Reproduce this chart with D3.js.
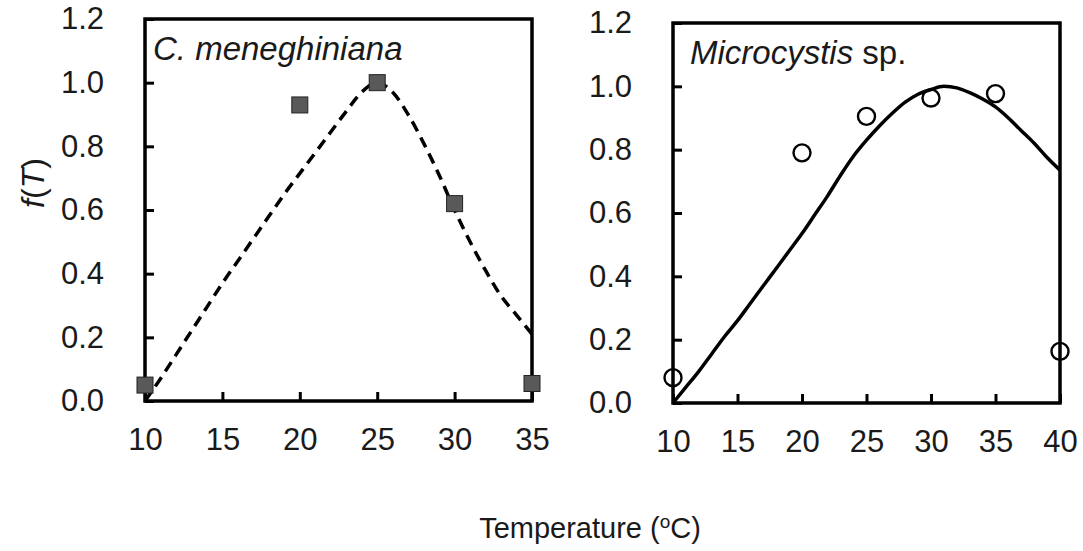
<!DOCTYPE html>
<html>
<head>
    <meta charset="utf-8">
    <title>f(T) vs temperature</title>
    <script src="https://d3js.org/d3.v7.min.js"></script>
    <style>
        body { margin: 0; background: #fff; }
        text { font-family: "Liberation Sans", Arial, sans-serif; fill: #1a1a1a; }
    </style>
</head>
<body>
    <svg id="chart" width="1083" height="551"></svg>
    <script>
        // C. meneghiniana observations (squares) and fitted curve (dashed)
        const cmTemp = [10, 20, 25, 30, 35];
        const cmObs = [0.05, 0.93, 1.0, 0.62, 0.055];
        const cmFitTemp = [10, 11, 12, 13, 14, 15, 16, 17, 18, 19, 20, 21, 22, 23, 24, 25, 26, 27, 28, 29, 30, 31, 32, 33, 34, 35];
        const cmFit = [0.0, 0.07, 0.145, 0.22, 0.295, 0.37, 0.44, 0.51, 0.58, 0.65, 0.715, 0.78, 0.845, 0.91, 0.97, 1.0, 0.97, 0.9, 0.81, 0.71, 0.6, 0.5, 0.41, 0.33, 0.27, 0.21];

        // Microcystis sp. observations (circles) and fitted curve (solid)
        const mcTemp = [10, 20, 25, 30, 35, 40];
        const mcObs = [0.08, 0.79, 0.905, 0.963, 0.977, 0.163];
        const mcFitTemp = [10, 11, 12, 13, 14, 15, 16, 17, 18, 19, 20, 21, 22, 23, 24, 25, 26, 27, 28, 29, 30, 31, 32, 33, 34, 35, 36, 37, 38, 39, 40];
        const mcFit = [0.0, 0.05, 0.1, 0.155, 0.21, 0.26, 0.315, 0.37, 0.425, 0.48, 0.535, 0.595, 0.655, 0.72, 0.78, 0.83, 0.875, 0.915, 0.95, 0.975, 0.99, 1.0, 0.995, 0.98, 0.96, 0.935, 0.9, 0.86, 0.82, 0.775, 0.735];

        const yTicks = [0, 0.2, 0.4, 0.6, 0.8, 1.0, 1.2];
        const cmXTicks = [10, 15, 20, 25, 30, 35];
        const mcXTicks = [10, 15, 20, 25, 30, 35, 40];

        const svg = d3.select("#chart");

        function panel(opts) {
            const x = d3.scaleLinear().domain(opts.xDomain).range([opts.left, opts.right]);
            const y = d3.scaleLinear().domain([0, 1.2]).range([opts.bottom, opts.top]);
            const g = svg.append("g");

            // axes with inward ticks
            const ax = g.append("g")
                .attr("transform", `translate(${opts.left},0)`)
                .call(d3.axisLeft(y).tickValues(yTicks).tickFormat(d3.format(".1f"))
                    .tickSizeInner(-9).tickSizeOuter(0).tickPadding(41));
            const bx = g.append("g")
                .attr("transform", `translate(0,${opts.bottom})`)
                .call(d3.axisBottom(x).tickValues(opts.xTicks)
                    .tickSizeInner(-9).tickSizeOuter(0).tickPadding(27));
            [ax, bx].forEach(a => {
                a.select(".domain").remove();
                a.selectAll("line").attr("stroke", "#000").attr("stroke-width", 3);
                a.selectAll("text").style("font-size", "31px").attr("fill", "#1a1a1a");
            });

            // frame
            g.append("rect")
                .attr("x", opts.left).attr("y", opts.top)
                .attr("width", opts.right - opts.left)
                .attr("height", opts.bottom - opts.top)
                .attr("fill", "none").attr("stroke", "#000").attr("stroke-width", 3.5);

            // fitted curve
            const line = d3.line().x(d => x(d[0])).y(d => y(d[1])).curve(d3.curveMonotoneX);
            g.append("path")
                .datum(d3.zip(opts.fitTemp, opts.fit))
                .attr("d", line)
                .attr("fill", "none")
                .attr("stroke", "#000")
                .attr("stroke-width", 3.5)
                .attr("stroke-dasharray", opts.dashed ? "11,7" : null);

            return { g, x, y };
        }

        const p1 = panel({
            left: 145, right: 532, top: 19, bottom: 401,
            xDomain: [10, 35], xTicks: cmXTicks,
            fitTemp: cmFitTemp, fit: cmFit, dashed: true
        });
        p1.g.append("g").selectAll("rect")
            .data(d3.zip(cmTemp, cmObs))
            .join("rect")
            .attr("x", d => p1.x(d[0]) - 8)
            .attr("y", d => p1.y(d[1]) - 8)
            .attr("width", 16).attr("height", 16)
            .attr("fill", "#595959").attr("stroke", "#222").attr("stroke-width", 1);

        const p2 = panel({
            left: 673, right: 1060, top: 23, bottom: 403,
            xDomain: [10, 40], xTicks: mcXTicks,
            fitTemp: mcFitTemp, fit: mcFit, dashed: false
        });
        p2.g.append("g").selectAll("circle")
            .data(d3.zip(mcTemp, mcObs))
            .join("circle")
            .attr("cx", d => p2.x(d[0]))
            .attr("cy", d => p2.y(d[1]))
            .attr("r", 8.5)
            .attr("fill", "none").attr("stroke", "#000").attr("stroke-width", 2.4);

        // panel titles
        svg.append("text")
            .attr("x", 153).attr("y", 60)
            .style("font-size", "33px").style("font-style", "italic")
            .text("C. meneghiniana");
        const t2 = svg.append("text")
            .attr("x", 690).attr("y", 64)
            .style("font-size", "33px");
        t2.append("tspan").style("font-style", "italic").text("Microcystis");
        t2.append("tspan").text(" sp.");

        // y axis title f(T)
        const yt = svg.append("text")
            .attr("transform", "translate(44,183) rotate(-90)")
            .attr("text-anchor", "middle")
            .style("font-size", "32px");
        yt.append("tspan").style("font-style", "italic").text("f");
        yt.append("tspan").text("(");
        yt.append("tspan").style("font-style", "italic").text("T");
        yt.append("tspan").text(")");

        // x axis title
        const xt = svg.append("text")
            .attr("x", 590).attr("y", 538)
            .attr("text-anchor", "middle")
            .style("font-size", "29px");
        xt.append("tspan").text("Temperature (");
        xt.append("tspan").attr("dy", -10).style("font-size", "19px").text("o");
        xt.append("tspan").attr("dy", 10).text("C)");
    </script>
</body>
</html>
